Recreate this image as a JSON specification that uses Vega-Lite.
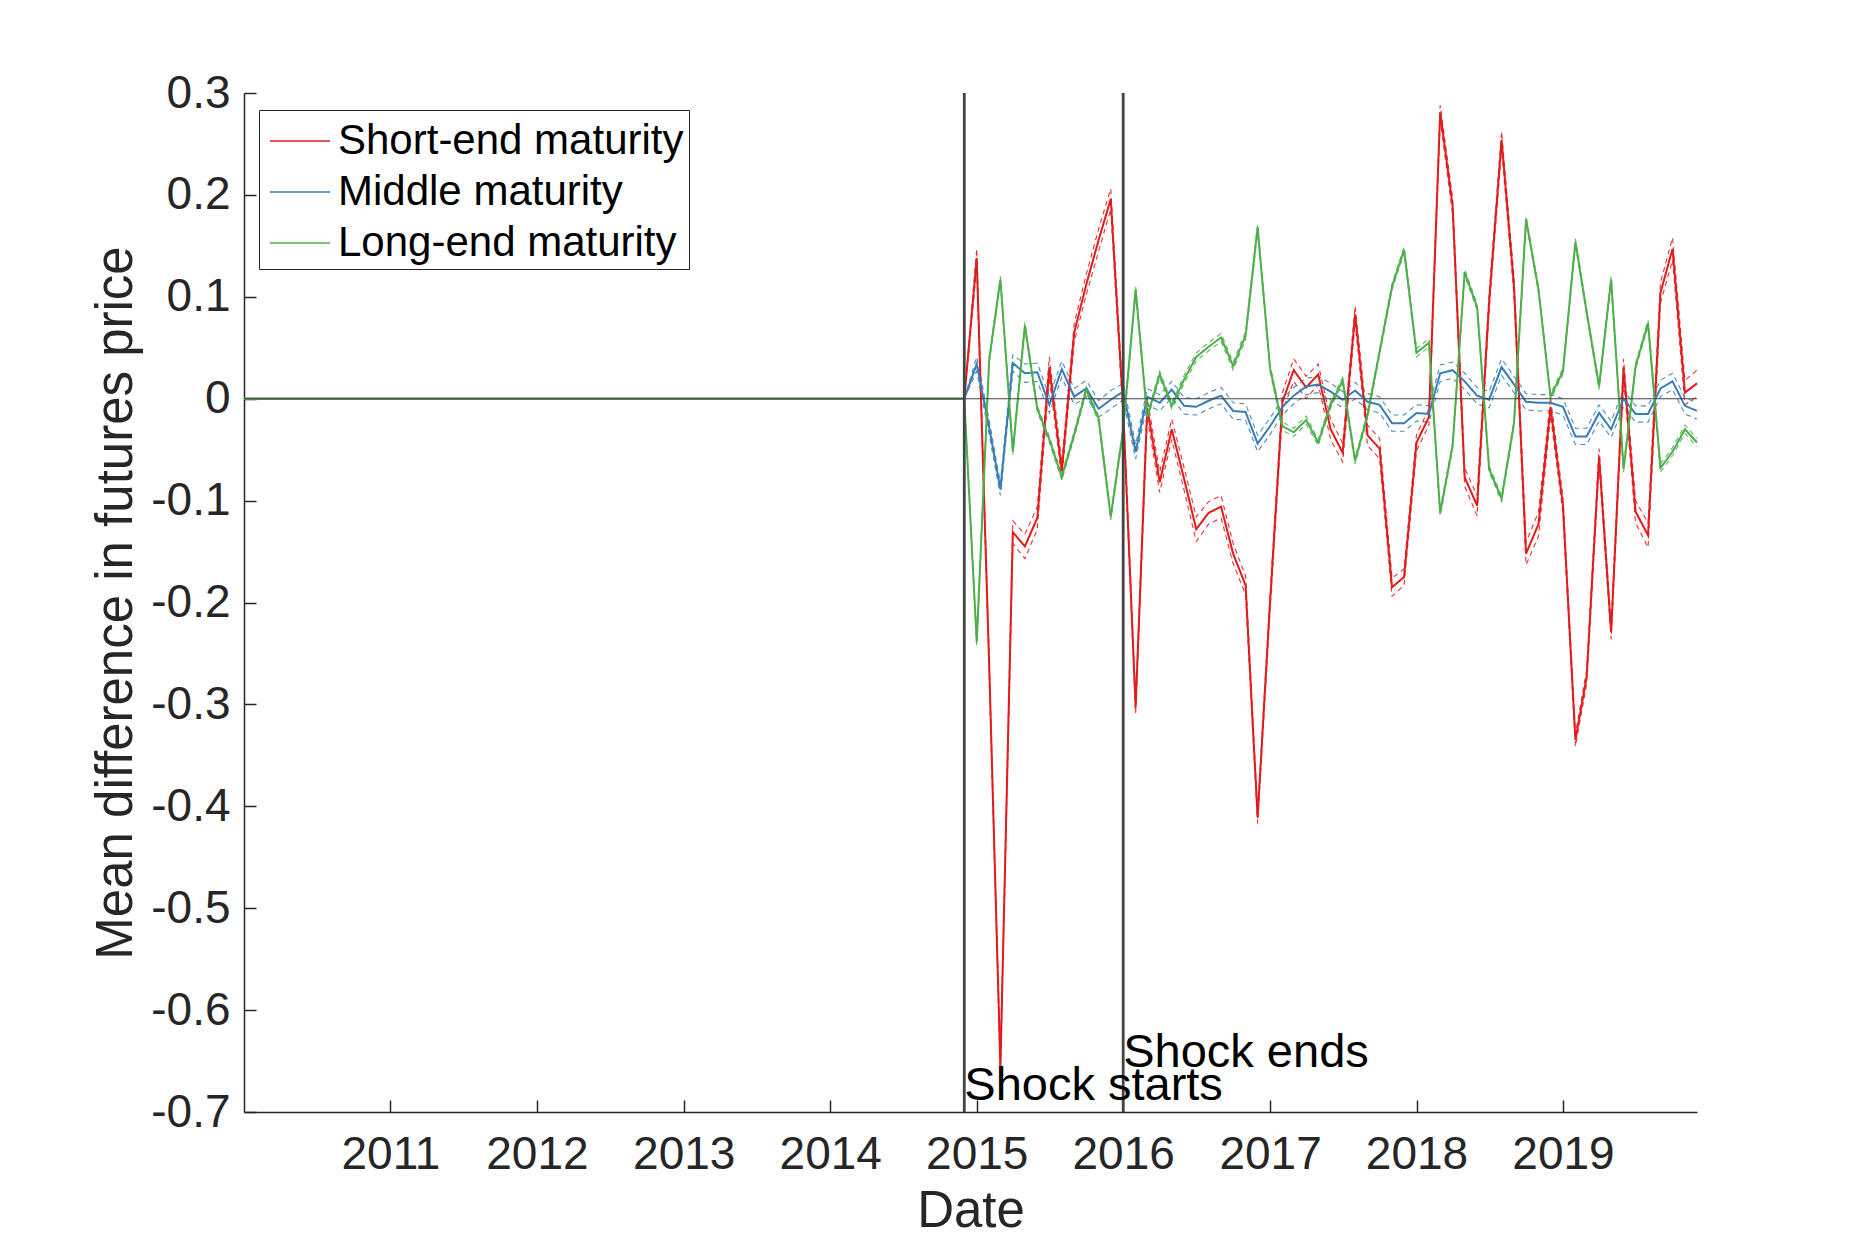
{
  "$schema": "https://vega.github.io/schema/vega-lite/v6.json",
  "width": 1453,
  "height": 1019,
  "autosize": "none",
  "padding": {"left": 244, "top": 93, "right": 178, "bottom": 138},
  "background": "white",
  "config": {
    "view": {"stroke": null},
    "font": "Liberation Sans",
    "axis": {
      "domainColor": "#262626", "domainWidth": 1.5,
      "tickColor": "#262626", "tickWidth": 1.5, "tickSize": -12,
      "labelColor": "#262626", "labelFont": "Liberation Sans", "labelFontSize": 46,
      "titleFont": "Liberation Sans", "titleFontSize": 51, "titleColor": "#262626", "titleFontWeight": "normal",
      "grid": false
    },
    "axisX": {"labelPadding": 32, "titlePadding": 9, "labelFlush": false},
    "axisY": {"labelPadding": 26, "titlePadding": 8}
  },
  "datasets": {
    "m": [
      {"d":"2010-01-01","S":0,"M":0,"L":0},{"d":"2010-02-01","S":0,"M":0,"L":0},{"d":"2010-03-01","S":0,"M":0,"L":0},{"d":"2010-04-01","S":0,"M":0,"L":0},{"d":"2010-05-01","S":0,"M":0,"L":0},{"d":"2010-06-01","S":0,"M":0,"L":0},{"d":"2010-07-01","S":0,"M":0,"L":0},{"d":"2010-08-01","S":0,"M":0,"L":0},{"d":"2010-09-01","S":0,"M":0,"L":0},{"d":"2010-10-01","S":0,"M":0,"L":0},{"d":"2010-11-01","S":0,"M":0,"L":0},{"d":"2010-12-01","S":0,"M":0,"L":0},
      {"d":"2011-01-01","S":0,"M":0,"L":0},{"d":"2011-02-01","S":0,"M":0,"L":0},{"d":"2011-03-01","S":0,"M":0,"L":0},{"d":"2011-04-01","S":0,"M":0,"L":0},{"d":"2011-05-01","S":0,"M":0,"L":0},{"d":"2011-06-01","S":0,"M":0,"L":0},{"d":"2011-07-01","S":0,"M":0,"L":0},{"d":"2011-08-01","S":0,"M":0,"L":0},{"d":"2011-09-01","S":0,"M":0,"L":0},{"d":"2011-10-01","S":0,"M":0,"L":0},{"d":"2011-11-01","S":0,"M":0,"L":0},{"d":"2011-12-01","S":0,"M":0,"L":0},
      {"d":"2012-01-01","S":0,"M":0,"L":0},{"d":"2012-02-01","S":0,"M":0,"L":0},{"d":"2012-03-01","S":0,"M":0,"L":0},{"d":"2012-04-01","S":0,"M":0,"L":0},{"d":"2012-05-01","S":0,"M":0,"L":0},{"d":"2012-06-01","S":0,"M":0,"L":0},{"d":"2012-07-01","S":0,"M":0,"L":0},{"d":"2012-08-01","S":0,"M":0,"L":0},{"d":"2012-09-01","S":0,"M":0,"L":0},{"d":"2012-10-01","S":0,"M":0,"L":0},{"d":"2012-11-01","S":0,"M":0,"L":0},{"d":"2012-12-01","S":0,"M":0,"L":0},
      {"d":"2013-01-01","S":0,"M":0,"L":0},{"d":"2013-02-01","S":0,"M":0,"L":0},{"d":"2013-03-01","S":0,"M":0,"L":0},{"d":"2013-04-01","S":0,"M":0,"L":0},{"d":"2013-05-01","S":0,"M":0,"L":0},{"d":"2013-06-01","S":0,"M":0,"L":0},{"d":"2013-07-01","S":0,"M":0,"L":0},{"d":"2013-08-01","S":0,"M":0,"L":0},{"d":"2013-09-01","S":0,"M":0,"L":0},{"d":"2013-10-01","S":0,"M":0,"L":0},{"d":"2013-11-01","S":0,"M":0,"L":0},{"d":"2013-12-01","S":0,"M":0,"L":0},
      {"d":"2014-01-01","S":0,"M":0,"L":0},{"d":"2014-02-01","S":0,"M":0,"L":0},{"d":"2014-03-01","S":0,"M":0,"L":0},{"d":"2014-04-01","S":0,"M":0,"L":0},{"d":"2014-05-01","S":0,"M":0,"L":0},{"d":"2014-06-01","S":0,"M":0,"L":0},{"d":"2014-07-01","S":0,"M":0,"L":0},{"d":"2014-08-01","S":0,"M":0,"L":0},{"d":"2014-09-01","S":0,"M":0,"L":0},{"d":"2014-10-01","S":0,"M":0,"L":0},{"d":"2014-11-01","S":0,"M":0,"L":0},
      {"d":"2014-12-01","S":0,"Sl":0,"Sh":0,"M":0,"Ml":0,"Mh":0,"L":0,"Ll":0,"Lh":0},
      {"d":"2015-01-01","S":0.138,"Sl":0.129,"Sh":0.147,"M":0.034,"Ml":0.027,"Mh":0.041,"L":-0.239,"Ll":-0.242,"Lh":-0.236},
      {"d":"2015-02-01","S":-0.26,"Sl":-0.266,"Sh":-0.254,"M":-0.028,"Ml":-0.035,"Mh":-0.021,"L":0.038,"Ll":0.035,"Lh":0.041},
      {"d":"2015-03-01","S":-0.656,"Sl":-0.662,"Sh":-0.65,"M":-0.089,"Ml":-0.095,"Mh":-0.083,"L":0.117,"Ll":0.114,"Lh":0.12},
      {"d":"2015-04-01","S":-0.131,"Sl":-0.142,"Sh":-0.12,"M":0.035,"Ml":0.027,"Mh":0.043,"L":-0.052,"Ll":-0.055,"Lh":-0.049},
      {"d":"2015-05-01","S":-0.145,"Sl":-0.157,"Sh":-0.133,"M":0.025,"Ml":0.016,"Mh":0.034,"L":0.072,"Ll":0.069,"Lh":0.075},
      {"d":"2015-06-01","S":-0.117,"Sl":-0.128,"Sh":-0.106,"M":0.026,"Ml":0.017,"Mh":0.035,"L":-0.01,"Ll":-0.013,"Lh":-0.007},
      {"d":"2015-07-01","S":0.031,"Sl":0.021,"Sh":0.041,"M":-0.006,"Ml":-0.014,"Mh":0.002,"L":-0.04,"Ll":-0.043,"Lh":-0.037},
      {"d":"2015-08-01","S":-0.071,"Sl":-0.079,"Sh":-0.063,"M":0.029,"Ml":0.021,"Mh":0.037,"L":-0.077,"Ll":-0.08,"Lh":-0.074},
      {"d":"2015-09-01","S":0.065,"Sl":0.056,"Sh":0.074,"M":0.002,"Ml":-0.006,"Mh":0.01,"L":-0.035,"Ll":-0.038,"Lh":-0.032},
      {"d":"2015-10-01","S":0.112,"Sl":0.102,"Sh":0.122,"M":0.01,"Ml":0.002,"Mh":0.018,"L":0.009,"Ll":0.006,"Lh":0.012},
      {"d":"2015-11-01","S":0.156,"Sl":0.145,"Sh":0.167,"M":-0.01,"Ml":-0.018,"Mh":-0.002,"L":-0.02,"Ll":-0.023,"Lh":-0.017},
      {"d":"2015-12-01","S":0.196,"Sl":0.186,"Sh":0.206,"M":-0.001,"Ml":-0.01,"Mh":0.008,"L":-0.116,"Ll":-0.119,"Lh":-0.113},
      {"d":"2016-01-01","S":-0.01,"Sl":-0.018,"Sh":-0.002,"M":0.007,"Ml":-0.001,"Mh":0.015,"L":-0.03,"Ll":-0.033,"Lh":-0.027},
      {"d":"2016-02-01","S":-0.303,"Sl":-0.309,"Sh":-0.297,"M":-0.052,"Ml":-0.059,"Mh":-0.045,"L":0.107,"Ll":0.104,"Lh":0.11},
      {"d":"2016-03-01","S":-0.009,"Sl":-0.018,"Sh":0.0,"M":0.002,"Ml":-0.006,"Mh":0.01,"L":-0.018,"Ll":-0.021,"Lh":-0.015},
      {"d":"2016-04-01","S":-0.082,"Sl":-0.092,"Sh":-0.072,"M":-0.004,"Ml":-0.012,"Mh":0.004,"L":0.024,"Ll":0.021,"Lh":0.027},
      {"d":"2016-05-01","S":-0.03,"Sl":-0.04,"Sh":-0.02,"M":0.009,"Ml":0.001,"Mh":0.017,"L":-0.007,"Ll":-0.01,"Lh":-0.004},
      {"d":"2016-06-01","S":-0.079,"Sl":-0.09,"Sh":-0.068,"M":-0.007,"Ml":-0.015,"Mh":0.001,"L":0.019,"Ll":0.015,"Lh":0.023},
      {"d":"2016-07-01","S":-0.128,"Sl":-0.14,"Sh":-0.116,"M":-0.008,"Ml":-0.016,"Mh":0.0,"L":0.041,"Ll":0.037,"Lh":0.045},
      {"d":"2016-08-01","S":-0.112,"Sl":-0.123,"Sh":-0.101,"M":-0.002,"Ml":-0.01,"Mh":0.006,"L":0.051,"Ll":0.047,"Lh":0.055},
      {"d":"2016-09-01","S":-0.106,"Sl":-0.117,"Sh":-0.095,"M":0.003,"Ml":-0.005,"Mh":0.011,"L":0.06,"Ll":0.056,"Lh":0.064},
      {"d":"2016-10-01","S":-0.152,"Sl":-0.162,"Sh":-0.142,"M":-0.012,"Ml":-0.02,"Mh":-0.004,"L":0.032,"Ll":0.028,"Lh":0.036},
      {"d":"2016-11-01","S":-0.183,"Sl":-0.192,"Sh":-0.174,"M":-0.013,"Ml":-0.021,"Mh":-0.005,"L":0.062,"Ll":0.058,"Lh":0.066},
      {"d":"2016-12-01","S":-0.411,"Sl":-0.417,"Sh":-0.405,"M":-0.044,"Ml":-0.052,"Mh":-0.036,"L":0.168,"Ll":0.165,"Lh":0.171},
      {"d":"2017-01-01","S":-0.2,"Sl":-0.207,"Sh":-0.193,"M":-0.027,"Ml":-0.035,"Mh":-0.019,"L":0.03,"Ll":0.027,"Lh":0.033},
      {"d":"2017-02-01","S":-0.003,"Sl":-0.012,"Sh":0.006,"M":-0.008,"Ml":-0.016,"Mh":0.0,"L":-0.027,"Ll":-0.031,"Lh":-0.023},
      {"d":"2017-03-01","S":0.028,"Sl":0.017,"Sh":0.039,"M":0.003,"Ml":-0.005,"Mh":0.011,"L":-0.033,"Ll":-0.037,"Lh":-0.029},
      {"d":"2017-04-01","S":0.011,"Sl":0.0,"Sh":0.022,"M":0.012,"Ml":0.004,"Mh":0.02,"L":-0.021,"Ll":-0.025,"Lh":-0.017},
      {"d":"2017-05-01","S":0.024,"Sl":0.014,"Sh":0.034,"M":0.014,"Ml":0.006,"Mh":0.022,"L":-0.043,"Ll":-0.046,"Lh":-0.04},
      {"d":"2017-06-01","S":-0.03,"Sl":-0.04,"Sh":-0.02,"M":0.007,"Ml":-0.001,"Mh":0.015,"L":-0.006,"Ll":-0.009,"Lh":-0.003},
      {"d":"2017-07-01","S":-0.053,"Sl":-0.062,"Sh":-0.044,"M":-0.001,"Ml":-0.009,"Mh":0.007,"L":0.018,"Ll":0.015,"Lh":0.021},
      {"d":"2017-08-01","S":0.083,"Sl":0.075,"Sh":0.091,"M":0.008,"Ml":0.0,"Mh":0.016,"L":-0.061,"Ll":-0.064,"Lh":-0.058},
      {"d":"2017-09-01","S":-0.036,"Sl":-0.046,"Sh":-0.026,"M":-0.003,"Ml":-0.011,"Mh":0.005,"L":-0.016,"Ll":-0.019,"Lh":-0.013},
      {"d":"2017-10-01","S":-0.049,"Sl":-0.059,"Sh":-0.039,"M":-0.006,"Ml":-0.014,"Mh":0.002,"L":0.046,"Ll":0.043,"Lh":0.049},
      {"d":"2017-11-01","S":-0.185,"Sl":-0.194,"Sh":-0.176,"M":-0.024,"Ml":-0.032,"Mh":-0.016,"L":0.11,"Ll":0.107,"Lh":0.113},
      {"d":"2017-12-01","S":-0.175,"Sl":-0.183,"Sh":-0.167,"M":-0.024,"Ml":-0.032,"Mh":-0.016,"L":0.146,"Ll":0.143,"Lh":0.149},
      {"d":"2018-01-01","S":-0.043,"Sl":-0.051,"Sh":-0.035,"M":-0.014,"Ml":-0.022,"Mh":-0.006,"L":0.045,"Ll":0.041,"Lh":0.049},
      {"d":"2018-02-01","S":-0.018,"Sl":-0.026,"Sh":-0.01,"M":-0.015,"Ml":-0.023,"Mh":-0.007,"L":0.055,"Ll":0.051,"Lh":0.059},
      {"d":"2018-03-01","S":0.281,"Sl":0.274,"Sh":0.288,"M":0.025,"Ml":0.017,"Mh":0.033,"L":-0.112,"Ll":-0.115,"Lh":-0.109},
      {"d":"2018-04-01","S":0.189,"Sl":0.181,"Sh":0.197,"M":0.028,"Ml":0.02,"Mh":0.036,"L":-0.046,"Ll":-0.049,"Lh":-0.043},
      {"d":"2018-05-01","S":-0.077,"Sl":-0.086,"Sh":-0.068,"M":0.017,"Ml":0.009,"Mh":0.025,"L":0.124,"Ll":0.121,"Lh":0.127},
      {"d":"2018-06-01","S":-0.105,"Sl":-0.115,"Sh":-0.095,"M":0.003,"Ml":-0.005,"Mh":0.011,"L":0.09,"Ll":0.087,"Lh":0.093},
      {"d":"2018-07-01","S":0.095,"Sl":0.087,"Sh":0.103,"M":-0.001,"Ml":-0.009,"Mh":0.007,"L":-0.069,"Ll":-0.072,"Lh":-0.066},
      {"d":"2018-08-01","S":0.254,"Sl":0.246,"Sh":0.262,"M":0.031,"Ml":0.023,"Mh":0.039,"L":-0.098,"Ll":-0.101,"Lh":-0.095},
      {"d":"2018-09-01","S":0.11,"Sl":0.101,"Sh":0.119,"M":0.014,"Ml":0.006,"Mh":0.022,"L":-0.024,"Ll":-0.027,"Lh":-0.021},
      {"d":"2018-10-01","S":-0.152,"Sl":-0.163,"Sh":-0.141,"M":-0.003,"Ml":-0.011,"Mh":0.005,"L":0.176,"Ll":0.173,"Lh":0.179},
      {"d":"2018-11-01","S":-0.123,"Sl":-0.135,"Sh":-0.111,"M":-0.004,"Ml":-0.012,"Mh":0.004,"L":0.107,"Ll":0.104,"Lh":0.11},
      {"d":"2018-12-01","S":-0.008,"Sl":-0.017,"Sh":0.001,"M":-0.004,"Ml":-0.012,"Mh":0.004,"L":0.002,"Ll":-0.001,"Lh":0.005},
      {"d":"2019-01-01","S":-0.105,"Sl":-0.113,"Sh":-0.097,"M":-0.008,"Ml":-0.016,"Mh":0.0,"L":0.027,"Ll":0.024,"Lh":0.03},
      {"d":"2019-02-01","S":-0.335,"Sl":-0.341,"Sh":-0.329,"M":-0.037,"Ml":-0.045,"Mh":-0.029,"L":0.154,"Ll":0.151,"Lh":0.157},
      {"d":"2019-03-01","S":-0.273,"Sl":-0.28,"Sh":-0.266,"M":-0.037,"Ml":-0.045,"Mh":-0.029,"L":0.085,"Ll":0.082,"Lh":0.088},
      {"d":"2019-04-01","S":-0.057,"Sl":-0.065,"Sh":-0.049,"M":-0.014,"Ml":-0.022,"Mh":-0.006,"L":0.012,"Ll":0.009,"Lh":0.015},
      {"d":"2019-05-01","S":-0.229,"Sl":-0.236,"Sh":-0.222,"M":-0.03,"Ml":-0.038,"Mh":-0.022,"L":0.117,"Ll":0.114,"Lh":0.12},
      {"d":"2019-06-01","S":0.03,"Sl":0.021,"Sh":0.039,"M":0.0,"Ml":-0.008,"Mh":0.008,"L":-0.069,"Ll":-0.072,"Lh":-0.066},
      {"d":"2019-07-01","S":-0.111,"Sl":-0.122,"Sh":-0.1,"M":-0.015,"Ml":-0.023,"Mh":-0.007,"L":0.032,"Ll":0.029,"Lh":0.035},
      {"d":"2019-08-01","S":-0.134,"Sl":-0.146,"Sh":-0.122,"M":-0.015,"Ml":-0.023,"Mh":-0.007,"L":0.074,"Ll":0.071,"Lh":0.077},
      {"d":"2019-09-01","S":0.104,"Sl":0.094,"Sh":0.114,"M":0.01,"Ml":0.002,"Mh":0.018,"L":-0.068,"Ll":-0.072,"Lh":-0.064},
      {"d":"2019-10-01","S":0.147,"Sl":0.136,"Sh":0.158,"M":0.017,"Ml":0.009,"Mh":0.025,"L":-0.052,"Ll":-0.056,"Lh":-0.048},
      {"d":"2019-11-01","S":0.006,"Sl":-0.006,"Sh":0.018,"M":-0.007,"Ml":-0.015,"Mh":0.001,"L":-0.03,"Ll":-0.034,"Lh":-0.026},
      {"d":"2019-12-01","S":0.015,"Sl":0.002,"Sh":0.028,"M":-0.012,"Ml":-0.02,"Mh":-0.004,"L":-0.043,"Ll":-0.047,"Lh":-0.039}
    ],
    "shock": [
      {"d":"2014-12-01","t":"Shock starts","ty":-0.688},
      {"d":"2016-01-01","t":"Shock ends","ty":-0.656}
    ],
    "zero": [{"z":0}]
  },
  "layer": [
    {
      "data": {"name": "m"},
      "transform": [
        {"fold": ["Sl","Sh","Ml","Mh","Ll","Lh"], "as": ["k","v"]},
        {"filter": "isValid(datum.v)"}
      ],
      "mark": {"type": "line", "strokeWidth": 1.1, "strokeDash": [5,4], "opacity": 0.9},
      "encoding": {
        "x": {"field": "d", "type": "temporal", "title": "Date",
              "scale": {"type": "utc", "nice": false, "domain": [{"year":2010,"month":1,"date":1,"utc":true},{"year":2019,"month":12,"date":1,"utc":true}]},
              "axis": {"values": [{"year":2011,"month":1,"date":1,"utc":true},{"year":2012,"month":1,"date":1,"utc":true},{"year":2013,"month":1,"date":1,"utc":true},{"year":2014,"month":1,"date":1,"utc":true},{"year":2015,"month":1,"date":1,"utc":true},{"year":2016,"month":1,"date":1,"utc":true},{"year":2017,"month":1,"date":1,"utc":true},{"year":2018,"month":1,"date":1,"utc":true},{"year":2019,"month":1,"date":1,"utc":true}], "format": "%Y"}},
        "y": {"field": "v", "type": "quantitative", "title": "Mean difference in futures price",
              "scale": {"domain": [-0.7, 0.3], "nice": false, "zero": false},
              "axis": {"values": [-0.7,-0.6,-0.5,-0.4,-0.3,-0.2,-0.1,0,0.1,0.2,0.3],
                       "labelExpr": "datum.value < -0.0001 ? '-' + format(-datum.value, '.1~f') : format(datum.value, '.1~f')"}},
        "color": {"field": "k", "type": "nominal", "legend": null,
                  "scale": {"domain": ["Sl","Sh","Ml","Mh","Ll","Lh"], "range": ["#e41a1c","#e41a1c","#377eb8","#377eb8","#4daf4a","#4daf4a"]}},
        "detail": {"field": "k"}
      }
    },
    {
      "data": {"name": "m"},
      "transform": [
        {"fold": ["S","M","L"], "as": ["k","v"]}
      ],
      "mark": {"type": "line", "strokeWidth": 2},
      "encoding": {
        "x": {"field": "d", "type": "temporal", "title": "Date"},
        "y": {"field": "v", "type": "quantitative", "title": "Mean difference in futures price"},
        "color": {"field": "k", "type": "nominal",
                  "scale": {"domain": ["S","M","L"], "range": ["#e41a1c","#377eb8","#4daf4a"]},
                  "legend": {"orient": "none", "legendX": 15, "legendY": 17, "title": null,
                             "symbolType": "M-0.8,0H1.6", "symbolSize": 2500, "symbolStrokeWidth": 1.5,
                             "labelFontSize": 42, "labelFont": "Liberation Sans", "labelColor": "#000000",
                             "labelOffset": 22, "labelLimit": 0, "padding": 5, "rowPadding": 4,
                             "strokeColor": "#262626", "fillColor": "white",
                             "labelExpr": "datum.label == 'S' ? 'Short-end maturity' : datum.label == 'M' ? 'Middle maturity' : 'Long-end maturity'"}}
      }
    },
    {
      "data": {"name": "zero"},
      "mark": {"type": "rule", "color": "#404040", "strokeWidth": 1.1},
      "encoding": {"y": {"field": "z", "type": "quantitative", "title": "Mean difference in futures price"}}
    },
    {
      "data": {"name": "shock"},
      "mark": {"type": "rule", "color": "#444444", "strokeWidth": 2.8},
      "encoding": {"x": {"field": "d", "type": "temporal", "title": "Date"}}
    },
    {
      "data": {"name": "shock"},
      "mark": {"type": "text", "align": "left", "baseline": "alphabetic", "fontSize": 47, "font": "Liberation Sans", "color": "#000000"},
      "encoding": {
        "x": {"field": "d", "type": "temporal", "title": "Date"},
        "y": {"field": "ty", "type": "quantitative", "title": "Mean difference in futures price"},
        "text": {"field": "t"}
      }
    }
  ],
  "resolve": {"scale": {"color": "independent"}}
}
